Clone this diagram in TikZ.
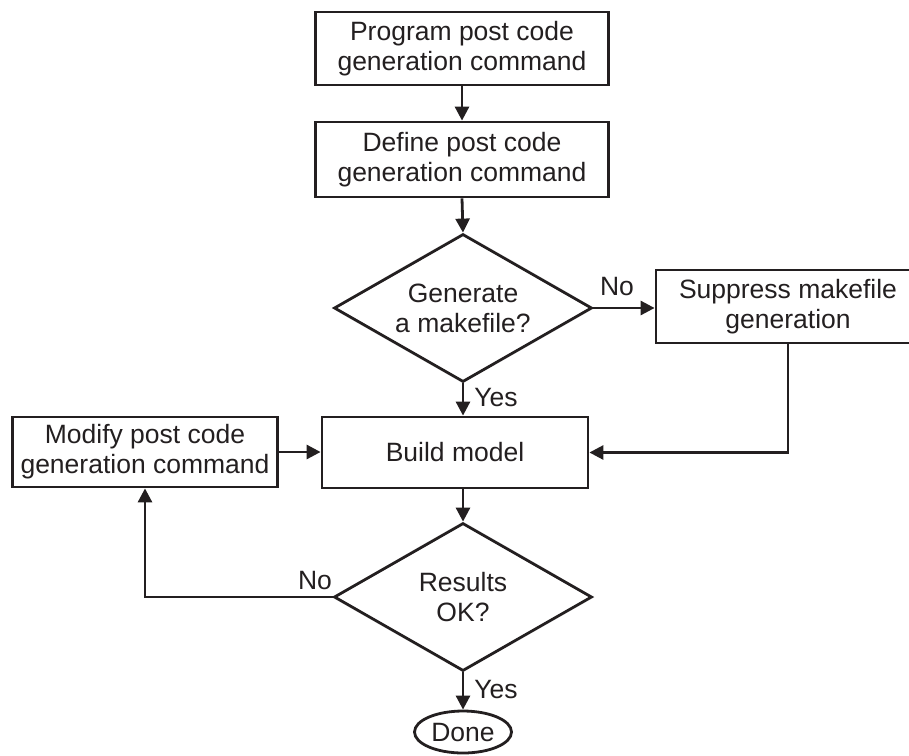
\documentclass[tikz,border=0pt]{standalone}
\usepackage{fontspec}
\setmainfont{Liberation Sans}
\usetikzlibrary{shapes.geometric,arrows.meta,calc}
\definecolor{ink}{RGB}{35,31,32}
\tikzset{
  every node/.style={text=ink, font=\fontsize{26.5}{30}\selectfont},
  box/.style={draw=ink, line width=2.8pt, rectangle, inner sep=0pt, align=center},
  decision/.style={draw=ink, line width=2.8pt, diamond, aspect=1.75, inner sep=0pt, align=center, minimum width=258pt, minimum height=148pt},
  terminal/.style={draw=ink, line width=2.8pt, ellipse, inner sep=0pt, minimum width=97pt, minimum height=42pt},
  flow/.style={draw=ink, line width=2.8pt, -{Triangle[length=14pt,width=14pt]}},
  lbl/.style={inner sep=0pt}
}
\begin{document}
\begin{tikzpicture}[x=1pt,y=-1pt]
\useasboundingbox (0,0) rectangle (909,755);
\node[box, minimum width=293pt, minimum height=73pt] (b1) at (462,48.5) {Program post code\\generation command};
\node[box, minimum width=293pt, minimum height=75pt] (b2) at (462,159.5) {Define post code\\generation command};
\node[decision] (d1) at (463,308) {Generate\\a makefile?};
\node[box, minimum width=264pt, minimum height=73pt] (sup) at (788,306.5) {Suppress makefile\\generation};
\node[box, minimum width=266pt, minimum height=71pt] (bm) at (455,452.5) {Build model};
\node[box, minimum width=265pt, minimum height=70pt] (mod) at (145,452) {Modify post code\\generation command};
\node[decision] (d2) at (463,597) {Results\\OK?};
\node[terminal] (done) at (463,732) {Done};
\draw[flow] (b1.south) -- (b2.north);
\draw[flow] (b2.south) -- (d1.north);
\draw[flow] (d1.east) -- (d1.east -| sup.west);
\draw[flow] (d1.south) -- (d1.south |- bm.north);
\draw[flow] (sup.south) |- (bm.east);
\draw[flow] (mod.east) -- (mod.east -| bm.west);
\draw[flow] (d2.north |- bm.south) -- (d2.north);
\draw[flow] (d2.west) -| (mod.south);
\draw[flow] (d2.south) -- (done.north);
\node[lbl] (no1) at (617,287) {No};
\node[lbl] (yes1) at (496,398) {Yes};
\node[lbl] (no2) at (315,581) {No};
\node[lbl] (yes2) at (496,690) {Yes};
\end{tikzpicture}
\end{document}
